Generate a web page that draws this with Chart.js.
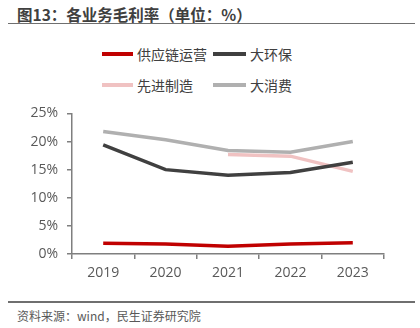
<!DOCTYPE html>
<html>
<head>
<meta charset="utf-8">
<script src="https://cdn.jsdelivr.net/npm/chart.js@4"></script>
<style>
  body { margin: 0; background: #fff; }
  #wrap { position: relative; width: 420px; height: 328px; overflow: hidden; font-family: "Open Sans", "Noto Sans CJK SC", sans-serif; }
  #title { position: absolute; left: 17px; top: 3px; font-size: 15.5px; font-weight: bold; color: #404040; font-family: "Noto Sans CJK SC", sans-serif; white-space: nowrap; }
  .rule { position: absolute; left: 8px; width: 407px; height: 1.5px; background: #6f6f6f; }
  #legend .item { position: absolute; height: 20px; }
  #legend .swatch { position: absolute; top: 8px; height: 4px; }
  #legend .txt { position: absolute; top: 0; font-size: 14px; line-height: 20px; color: #404040; font-family: "Noto Sans CJK SC", sans-serif; white-space: nowrap; }
  #chartBox { position: absolute; left: 0; top: 96px; width: 420px; height: 194px; }
  #foot { position: absolute; left: 17px; top: 307px; font-size: 12px; color: #595959; font-family: "Noto Sans CJK SC", sans-serif; white-space: nowrap; }
</style>
</head>
<body>
<div id="wrap">
  <div id="title">图13：各业务毛利率（单位：%）</div>
  <div class="rule" style="top:22.5px"></div>
  <div id="legend"></div>
  <div id="chartBox"><canvas id="marginChart" width="420" height="194"></canvas></div>
  <div class="rule" style="top:301px"></div>
  <div id="foot">资料来源：wind，民生证券研究院</div>
</div>
<script>
// years and gross margin (%)
const years = ['2019', '2020', '2021', '2022', '2023'];
const supplyChain = [1.9, 1.8, 1.4, 1.8, 2.0];    // 供应链运营
const environment = [19.4, 15.0, 14.0, 14.5, 16.3]; // 大环保
const manufacturing = [null, null, 17.7, 17.4, 14.7]; // 先进制造
const consumer = [21.8, 20.3, 18.4, 18.1, 20.0];   // 大消费
const yTicks = [0, 5, 10, 15, 20, 25];

const series = [
    { label: '供应链运营', data: supplyChain, color: '#C00000' },
    { label: '大环保', data: environment, color: '#404040' },
    { label: '先进制造', data: manufacturing, color: '#F0C2C2' },
    { label: '大消费', data: consumer, color: '#B0B0B0' }
];

// legend in a 2x2 grid like the original
const legendSpots = [
    { x: 102, y: 44, w: 31 },
    { x: 213, y: 44, w: 33 },
    { x: 102, y: 75, w: 31 },
    { x: 213, y: 75, w: 33 }
];
const legend = document.getElementById('legend');
series.forEach((s, i) => {
    const p = legendSpots[i];
    const item = document.createElement('div');
    item.className = 'item';
    item.style.left = p.x + 'px';
    item.style.top = p.y + 'px';
    item.innerHTML = '<div class="swatch" style="left:0;width:' + p.w + 'px;background:' + s.color + '"></div>' +
        '<div class="txt" style="left:' + (p.w + 4) + 'px">' + s.label + '</div>';
    legend.appendChild(item);
});

const axisColor = '#7f7f7f';
const tickFont = { family: 'Open Sans', size: 14 };

const ctx = document.getElementById('marginChart').getContext('2d');
const chart = new Chart(ctx, {
    type: 'line',
    data: {
        labels: years,
        datasets: series.map(s => ({
            label: s.label,
            data: s.data,
            borderColor: s.color,
            backgroundColor: s.color,
            borderWidth: 3.5,
            pointRadius: 0,
            pointHoverRadius: 0,
            tension: 0,
            spanGaps: false
        }))
    },
    options: {
        responsive: false,
        animation: false,
        layout: { padding: { top: 0, right: 36, left: 0, bottom: 0 } },
        plugins: {
            legend: { display: false },
            tooltip: { enabled: false }
        },
        scales: {
            x: {
                offset: true,
                grid: { offset: true, drawOnChartArea: false, drawTicks: true, tickLength: 5, color: axisColor, lineWidth: 1.5 },
                border: { color: axisColor, width: 1.5 },
                ticks: { color: '#595959', font: tickFont, padding: 6, maxRotation: 0 },
                afterFit: scale => { scale.height = 36; }
            },
            y: {
                min: 0,
                max: 25,
                afterBuildTicks: scale => { scale.ticks = yTicks.map(v => ({ value: v })); },
                grid: { drawOnChartArea: false, drawTicks: true, tickLength: 5, color: axisColor, lineWidth: 1.5 },
                border: { color: axisColor, width: 1.5 },
                ticks: { color: '#595959', font: tickFont, padding: 9, callback: v => v + '%' },
                afterFit: scale => { scale.width = 72; }
            }
        }
    }
});
</script>
</body>
</html>
